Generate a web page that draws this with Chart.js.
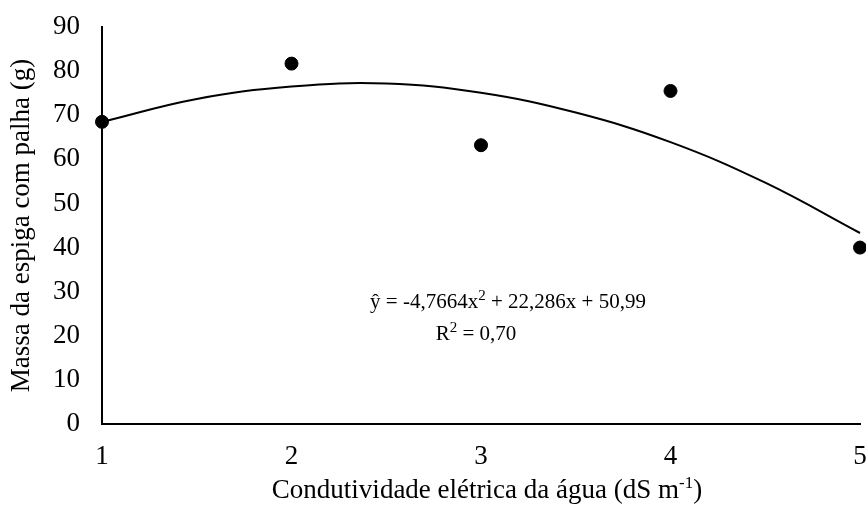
<!DOCTYPE html>
<html><head><meta charset="utf-8">
<script src="https://cdn.jsdelivr.net/npm/chart.js@4/dist/chart.umd.min.js"></script>
<style>html,body{margin:0;padding:0;background:#fff}canvas{display:block}</style>
</head><body>
<canvas id="c" width="866" height="506"></canvas>
<script>
// ---- data ----
const categories = [1, 2, 3, 4, 5];                 // Condutividade elétrica (dS m-1)
const observed = [68.5, 81.7, 63.2, 75.5, 40.0];     // Massa da espiga com palha (g)
const trendX = [1, 1.5, 2, 2.5, 3, 3.5, 4, 4.5, 5];
const trendY = [68.5, 73.7, 76.5, 77.2, 75.1, 70.6, 63.9, 54.7, 43.3];
const yTickLabels = [0, 10, 20, 30, 40, 50, 60, 70, 80, 90];
const xTickLabels = [1, 2, 3, 4, 5];
const yTitle = 'Massa da espiga com palha (g)';
const xTitleParts = [['Condutividade elétrica da água (dS m', false], ['-1', true], [')', false]];
const eqParts = [['ŷ = -4,7664x', false], ['2', true], [' + 22,286x + 50,99', false]];
const r2Parts = [['R', false], ['2', true], [' = 0,70', false]];

const FONT = "'Liberation Serif', 'Times New Roman', serif";

function drawRich(ctx, parts, cx, baseline, size, supSize, rise) {
  let w = 0;
  const widths = parts.map(([t, sup]) => {
    ctx.font = (sup ? supSize : size) + 'px ' + FONT;
    const m = ctx.measureText(t).width; w += m; return m;
  });
  let x = cx - w / 2;
  ctx.textBaseline = 'alphabetic';
  ctx.textAlign = 'left';
  ctx.fillStyle = '#000';
  parts.forEach(([t, sup], i) => {
    ctx.font = (sup ? supSize : size) + 'px ' + FONT;
    ctx.fillText(t, x, sup ? baseline - rise : baseline);
    x += widths[i];
  });
}

const textPlugin = {
  id: 'texts',
  afterDraw(chart) {
    const ctx = chart.ctx;
    ctx.save();
    drawRich(ctx, eqParts, 508, 308, 21, 15, 8);
    drawRich(ctx, r2Parts, 476, 340, 21, 15, 8);
    drawRich(ctx, xTitleParts, 487, 498, 27, 17, 10);
    ctx.restore();
  }
};

new Chart(document.getElementById('c'), {
  type: 'scatter',
  data: {
    datasets: [
      {
        data: categories.map((x, i) => ({x, y: observed[i]})),
        backgroundColor: '#000', borderColor: '#000',
        pointRadius: 6.5, pointHoverRadius: 6.5, showLine: false, clip: false, order: 0
      },
      {
        data: trendX.map((x, i) => ({x, y: trendY[i]})),
        showLine: true, borderColor: '#000', borderWidth: 2, pointRadius: 0,
        tension: 0.4, fill: false, clip: false, order: 1
      }
    ]
  },
  options: {
    responsive: false, animation: false, devicePixelRatio: 1,
    layout: {autoPadding: false, padding: {top: 27, right: 6, left: 0, bottom: 0}},
    plugins: {legend: {display: false}, tooltip: {enabled: false}},
    scales: {
      x: {
        type: 'linear', min: 1, max: 5,
        afterBuildTicks: s => { s.ticks = xTickLabels.map(v => ({value: v})); },
        afterFit: s => { s.height = 82; s.paddingLeft = 0; s.paddingRight = 0; },
        grid: {display: false, drawTicks: false},
        border: {display: true, color: '#000', width: 2},
        ticks: {color: '#000', padding: 17, maxRotation: 0, font: {family: FONT, size: 27}}
      },
      y: {
        type: 'linear', min: 0, max: 90,
        afterBuildTicks: s => { s.ticks = yTickLabels.map(v => ({value: v})); },
        afterFit: s => { s.width = 102; s.paddingTop = 0; s.paddingBottom = 0; },
        grid: {display: false, drawTicks: false},
        border: {display: true, color: '#000', width: 2},
        ticks: {color: '#000', padding: 22, font: {family: FONT, size: 27}},
        title: {display: true, text: yTitle, color: '#000', font: {family: FONT, size: 27}, padding: {top: 6, bottom: 0}}
      }
    }
  },
  plugins: [textPlugin]
});
</script>
</body></html>
